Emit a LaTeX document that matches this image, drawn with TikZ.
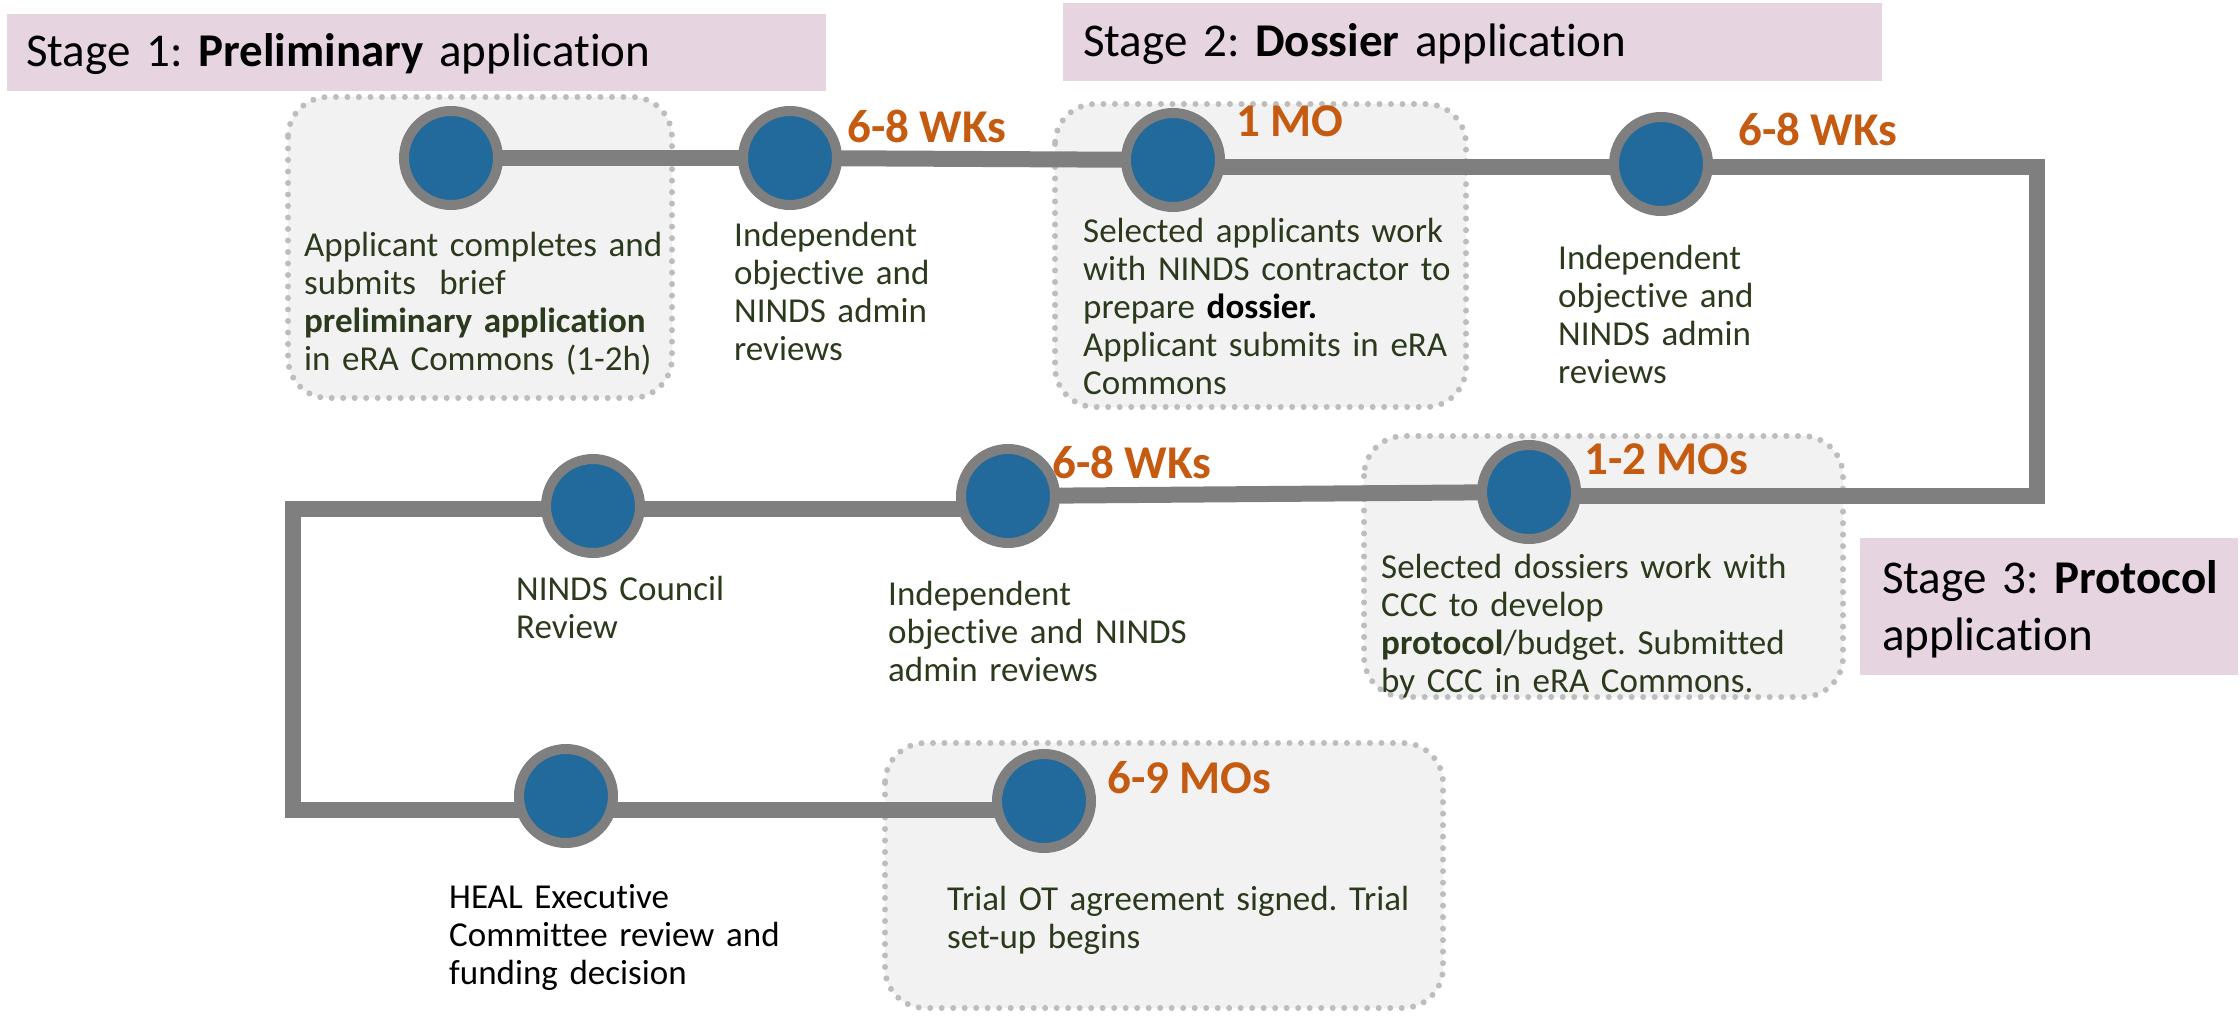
\documentclass[tikz,border=0pt]{standalone}
\usepackage{fontspec}
\setmainfont{Carlito}[Ligatures=CommonOff]
\frenchspacing
\definecolor{stagefill}{HTML}{E6D5E1}
\definecolor{boxfill}{HTML}{F2F2F2}
\definecolor{dotc}{HTML}{BDBDBD}
\definecolor{linegray}{HTML}{7F7F7F}
\definecolor{nodeblue}{HTML}{22699C}
\definecolor{durorange}{HTML}{C55A11}
\definecolor{txtg}{HTML}{2B3A1C}
\pgfdeclarelayer{boxes}
\pgfdeclarelayer{lines}
\pgfsetlayers{boxes,lines,main}
\tikzset{
  stagebox/.style={fill=stagefill, draw=none},
  dbox/.style={fill=boxfill, draw=dotc, line width=6pt, dash pattern=on 0pt off 11.5pt, line cap=round, rounded corners=40pt},
  conn/.style={draw=linegray, line width=16pt, line join=miter, line cap=butt},
  milestone/.style={circle, fill=nodeblue, draw=linegray, line width=10pt, minimum size=94pt, inner sep=0pt},
  txt/.style={anchor=base west, inner sep=0pt, align=left, text width=600pt, text=txtg, font=\fontsize{35pt}{38pt}\selectfont},
  dur/.style={anchor=base west, inner sep=0pt, text=durorange, font=\fontsize{47pt}{56pt}\selectfont\bfseries},
  stagetxt/.style={anchor=base west, inner sep=0pt, align=left, text width=1000pt, text=black, font=\fontsize{47pt}{57pt}\selectfont},
}
\begin{document}
\begin{tikzpicture}[x=1pt,y=-1pt]
\useasboundingbox (0,0) rectangle (2240,1016);

% stage headers and dotted grey boxes
\begin{pgfonlayer}{boxes}
\fill[stagebox] (7,14) rectangle (826,91);
\fill[stagebox] (1063,3) rectangle (1882,81);
\fill[stagebox] (1860,538) rectangle (2238,675);
\draw[dbox] (288,97) rectangle (672,398);
\draw[dbox] (1055,104) rectangle (1466,407);
\draw[dbox] (1364,436) rectangle (1843,697);
\draw[dbox] (885,743) rectangle (1443,1008);
\end{pgfonlayer}

\node[stagetxt] (st1) at (26,67) {Stage 1: \textbf{Preliminary} application};
\node[stagetxt] (st2) at (1083,57) {Stage 2: \textbf{Dossier} application};
\node[stagetxt] (st3) at (1882,593) {Stage 3: \textbf{Protocol}\\application};

% milestones
\node[milestone] (n1) at (451,158) {};
\node[milestone] (n2) at (790,158) {};
\node[milestone] (n3) at (1173,160) {};
\node[milestone] (n4) at (1661,164) {};
\node[milestone] (n5) at (1529,492) {};
\node[milestone] (n6) at (1008,496) {};
\node[milestone] (n7) at (593,506) {};
\node[milestone] (n8) at (566,796) {};
\node[milestone] (n9) at (1044,801) {};

\coordinate (c1) at (2037,167.5);
\coordinate (c2) at (2037,496);
\coordinate (c3) at (292.5,509);
\coordinate (c4) at (292.5,810);

\begin{pgfonlayer}{lines}
\draw[conn] (n1.center) -- (n2.center);
\draw[conn] (n2.center) -- (n3.center);
\draw[conn] (n3.center |- c1) -- (c1) -- (c2) -- (n5.center |- c2);
\draw[conn] (n5.center) -- (n6.center);
\draw[conn] (n6.center |- c3) -- (c3) -- (c4) -- (n9.center |- c4);
\end{pgfonlayer}

% durations
\node[dur] (d1) at (847,143) {6-8 WKs};
\node[dur] (d2) at (1236,137) {1 MO};
\node[dur] (d3) at (1738,146) {6-8 WKs};
\node[dur] (d4) at (1052,478) {6-8 WKs};
\node[dur] (d5) at (1584,474) {1-2 MOs};
\node[dur] (d6) at (1107,793) {6-9 MOs};

% descriptions
\node[txt] (t1) at (304,257) {Applicant completes and\\submits~ brief\\\textbf{preliminary application}\\in eRA Commons (1-2h)};
\node[txt] (t2) at (734,247) {Independent\\objective and\\NINDS admin\\reviews};
\node[txt] (t3) at (1083,243) {Selected applicants work\\with NINDS contractor to\\prepare \textbf{\textcolor{black}{dossier.}}\\Applicant submits in eRA\\Commons};
\node[txt] (t4) at (1558,270) {Independent\\objective and\\NINDS admin\\reviews};
\node[txt] (t5) at (1381,578) {Selected dossiers work with\\CCC to develop\\\textbf{protocol}/budget. Submitted\\by CCC in eRA Commons.};
\node[txt] (t6) at (516,600) {NINDS Council\\Review};
\node[txt] (t7) at (888,605) {Independent\\objective and NINDS\\admin reviews};
\node[txt, text=black] (t8) at (449,908) {HEAL Executive\\Committee review and\\funding decision};
\node[txt] (t9) at (947,910) {Trial OT agreement signed. Trial\\set-up begins};
\end{tikzpicture}
\end{document}
